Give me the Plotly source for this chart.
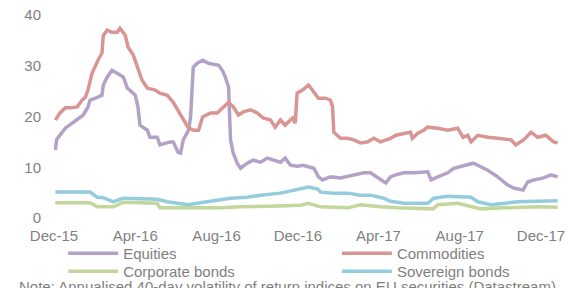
import plotly.graph_objects as go

equities_dates = ["2015-12-03","2015-12-05","2015-12-18","2015-12-30","2016-01-14","2016-01-21","2016-01-24","2016-02-01","2016-02-11","2016-02-13","2016-02-19","2016-02-26","2016-03-06","2016-03-14","2016-03-20","2016-04-01","2016-04-05","2016-04-08","2016-04-19","2016-04-23","2016-05-04","2016-05-08","2016-05-23","2016-05-28","2016-06-04","2016-06-08","2016-06-12","2016-06-20","2016-06-23","2016-06-24","2016-06-26","2016-06-27","2016-07-03","2016-07-11","2016-07-20","2016-08-04","2016-08-10","2016-08-14","2016-08-19","2016-08-20","2016-08-22","2016-08-26","2016-09-01","2016-09-06","2016-09-16","2016-09-25","2016-10-06","2016-10-16","2016-10-28","2016-11-05","2016-11-12","2016-11-20","2016-11-30","2016-12-09","2016-12-25","2017-01-01","2017-01-07","2017-01-19","2017-02-03","2017-02-23","2017-03-10","2017-03-20","2017-03-31","2017-04-12","2017-04-19","2017-04-27","2017-05-09","2017-05-24","2017-06-14","2017-06-19","2017-06-29","2017-07-14","2017-07-23","2017-08-13","2017-08-21","2017-08-28","2017-09-12","2017-09-27","2017-10-12","2017-10-21","2017-11-04","2017-11-11","2017-11-20","2017-12-05","2017-12-16","2017-12-26"]
equities = [13.4,15.5,17.7,18.9,20.3,21.9,23.2,23.6,24.2,26.2,27.8,29.1,28.5,27.8,25.6,24.2,21.9,18.3,17.3,15.9,15.9,14.4,15.0,15.0,13.0,12.8,15.4,17.3,19.9,23.0,27.8,29.7,30.5,31.1,30.5,30.1,29.0,27.8,25.8,20.0,15.4,12.8,10.8,9.8,10.8,11.4,11.0,11.8,11.4,11.0,11.8,10.4,10.2,10.4,9.8,8.1,7.5,8.1,7.9,8.5,8.9,8.9,7.9,6.9,8.1,8.5,8.9,8.9,9.1,7.5,8.1,8.9,9.8,10.4,10.8,10.4,9.4,8.1,6.5,5.9,5.5,7.1,7.5,7.9,8.5,8.1]

commodities_dates = ["2015-12-03","2015-12-10","2015-12-18","2015-12-25","2016-01-05","2016-01-12","2016-01-17","2016-01-21","2016-01-27","2016-02-01","2016-02-05","2016-02-11","2016-02-13","2016-02-19","2016-02-26","2016-03-05","2016-03-09","2016-03-17","2016-03-21","2016-03-29","2016-04-05","2016-04-11","2016-04-19","2016-05-01","2016-05-08","2016-05-19","2016-05-28","2016-06-08","2016-06-19","2016-06-27","2016-07-05","2016-07-11","2016-07-23","2016-08-02","2016-08-11","2016-08-19","2016-08-26","2016-09-03","2016-09-10","2016-09-21","2016-10-01","2016-10-10","2016-10-21","2016-10-28","2016-11-05","2016-11-12","2016-11-23","2016-11-27","2016-11-30","2016-12-08","2016-12-17","2016-12-25","2017-01-01","2017-01-12","2017-01-19","2017-01-22","2017-01-24","2017-02-03","2017-02-14","2017-02-23","2017-03-05","2017-03-16","2017-03-25","2017-04-04","2017-04-19","2017-04-27","2017-05-09","2017-05-19","2017-05-22","2017-05-30","2017-06-08","2017-06-14","2017-06-29","2017-07-14","2017-07-29","2017-08-06","2017-08-13","2017-08-18","2017-08-28","2017-09-12","2017-09-27","2017-10-17","2017-10-24","2017-11-05","2017-11-16","2017-11-26","2017-12-08","2017-12-20","2017-12-26"]
commodities = [19.3,20.7,21.7,21.7,21.9,23.2,23.8,25.2,28.5,30.1,31.1,32.5,36.0,37.0,36.6,36.6,37.4,36.0,33.7,32.1,29.7,27.2,25.6,25.2,24.6,24.2,22.8,20.5,17.9,17.3,17.3,19.9,20.7,20.7,21.9,22.8,21.9,20.3,20.9,21.3,20.7,19.7,19.3,17.9,19.3,18.3,19.7,18.7,24.6,25.2,26.2,24.8,23.6,23.6,23.2,22.0,16.9,15.7,15.7,15.4,14.8,15.0,15.7,15.0,15.7,16.3,16.7,16.9,15.7,16.7,17.3,17.9,17.7,17.3,17.7,15.9,16.3,15.0,16.3,15.9,15.7,15.4,14.4,15.4,16.9,15.9,16.3,15.0,14.8]

corporate_dates = ["2015-12-03","2016-01-24","2016-02-04","2016-02-28","2016-03-14","2016-04-08","2016-05-04","2016-05-08","2016-06-19","2016-07-08","2016-08-07","2016-09-06","2016-10-21","2016-12-05","2016-12-17","2017-01-04","2017-02-14","2017-03-05","2017-04-04","2017-04-30","2017-06-22","2017-06-29","2017-07-29","2017-08-18","2017-09-02","2017-10-06","2017-11-26","2017-12-26"]
corporate = [3.0,3.0,2.2,2.2,3.1,3.0,2.9,2.0,1.9,2.0,2.0,2.2,2.3,2.5,2.9,2.2,2.0,2.6,2.2,2.0,1.8,2.6,2.9,2.2,1.8,2.0,2.2,2.1]

sovereign_dates = ["2015-12-03","2016-01-24","2016-02-04","2016-02-13","2016-02-28","2016-03-14","2016-04-08","2016-05-04","2016-05-19","2016-06-19","2016-07-08","2016-07-27","2016-08-22","2016-09-16","2016-10-06","2016-11-05","2016-11-24","2016-12-17","2016-12-31","2017-01-04","2017-01-24","2017-02-14","2017-03-05","2017-03-20","2017-04-09","2017-04-19","2017-05-09","2017-06-14","2017-06-23","2017-07-14","2017-08-18","2017-08-28","2017-09-17","2017-10-06","2017-10-27","2017-11-26","2017-12-19","2017-12-26"]
sovereign = [5.1,5.1,4.1,4.0,3.2,3.9,3.8,3.7,3.2,2.6,3.0,3.4,3.9,4.1,4.5,4.9,5.5,6.1,5.7,5.1,4.9,4.9,4.5,4.5,3.9,3.3,2.9,2.9,3.9,4.3,4.1,3.2,2.6,2.9,3.2,3.3,3.5,3.4]

tick_dates = ["2015-12-01","2016-04-01","2016-08-01","2016-12-01","2017-04-01","2017-08-01","2017-12-01"]
tick_labels = ["Dec-15","Apr-16","Aug-16","Dec-16","Apr-17","Aug-17","Dec-17"]
y_ticks = [0, 10, 20, 30, 40]

series = [
    ("Equities", equities_dates, equities, "#B3A2C7", "legend"),
    ("Commodities", commodities_dates, commodities, "#D99594", "legend2"),
    ("Corporate bonds", corporate_dates, corporate, "#C3D69B", "legend3"),
    ("Sovereign bonds", sovereign_dates, sovereign, "#93CDDD", "legend4"),
]

fig = go.Figure()
for name, d, v, c, lg in series:
    fig.add_trace(go.Scatter(x=d, y=v, name=name, mode="lines", legend=lg,
                             line=dict(color=c, width=3.5)))

grey = "#7F7F7F"
leg_common = dict(orientation="v", yanchor="top", xanchor="left",
                  itemwidth=50, tracegroupgap=0, bgcolor="rgba(0,0,0,0)",
                  font=dict(size=15, color=grey))
col1, col2 = 0.018, 0.558
row1, row2 = -0.094, -0.182
fig.update_layout(
    width=574, height=288,
    margin=dict(l=54, r=13, t=15, b=70, autoexpand=False),
    paper_bgcolor="white", plot_bgcolor="white",
    font=dict(family="Arial, Liberation Sans, sans-serif", size=15, color=grey),
    showlegend=True,
    legend=dict(x=col1, y=row1, **leg_common),
    legend2=dict(x=col2, y=row1, **leg_common),
    legend3=dict(x=col1, y=row2, **leg_common),
    legend4=dict(x=col2, y=row2, **leg_common),
    xaxis=dict(type="date", range=["2015-12-01", "2017-12-31"],
               tickvals=tick_dates, ticktext=tick_labels,
               showgrid=False, zeroline=False, showline=False,
               ticks="outside", ticklen=4, tickcolor="rgba(0,0,0,0)",
               tickfont=dict(size=15, color=grey)),
    yaxis=dict(range=[0, 40], tickvals=y_ticks, showgrid=False, zeroline=False,
               showline=False, ticks="", ticklabelstandoff=12,
               tickfont=dict(size=15, color=grey)),
    annotations=[dict(text="Note: Annualised 40-day volatility of return indices on EU securities (Datastream)",
                      xref="paper", yref="paper", x=-0.072, y=-0.288, xanchor="left", yanchor="top",
                      showarrow=False, font=dict(size=15, color=grey))],
)

fig.write_html("out.html", config={"displayModeBar": False},
               post_script="document.body.style.margin='0px';")
